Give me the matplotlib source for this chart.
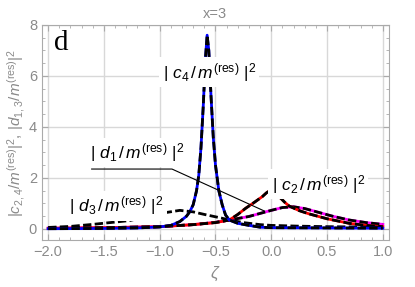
import matplotlib
matplotlib.use('Agg')
import matplotlib.pyplot as plt
from matplotlib.ticker import MultipleLocator

plt.rcParams['font.family'] = 'Liberation Sans'
plt.rcParams['mathtext.fontset'] = 'custom'
plt.rcParams['mathtext.rm'] = 'Liberation Sans'
plt.rcParams['mathtext.it'] = 'Liberation Sans:italic'

# curve values
zeta_c4 = [-2.0, -1.5, -1.2, -1.0, -0.9, -0.82, -0.76, -0.73, -0.7, -0.67, -0.65, -0.63,
           -0.61, -0.59, -0.575, -0.56, -0.54, -0.52, -0.5, -0.47, -0.44, -0.41,
           -0.376, -0.3, -0.2, -0.1, 0.0, 0.5, 1.0]
c4 = [0.01, 0.02, 0.04, 0.08, 0.14, 0.29, 0.5, 0.68, 0.95, 1.5, 2.1, 3.2,
      4.8, 6.7, 7.6, 7.0, 5.2, 3.6, 2.5, 1.5, 0.95, 0.55,
      0.35, 0.22, 0.14, 0.07, 0.05, 0.04, 0.03]

zeta_c2 = [-2.0, -1.5, -1.0, -0.7, -0.5, -0.376, -0.3, -0.23, -0.15, -0.08, -0.045,
           0.0, 0.04, 0.07, 0.12, 0.16, 0.25, 0.34, 0.5, 0.7, 0.85, 1.0]
c2 = [0.03, 0.05, 0.09, 0.17, 0.25, 0.35, 0.57, 0.81, 1.05, 1.27, 1.41,
      1.55, 1.45, 1.27, 1.05, 0.9, 0.72, 0.59, 0.4, 0.22, 0.14, 0.09]

zeta_d1 = [-2.0, -1.5, -1.0, -0.7, -0.5, -0.376, -0.2, 0.0, 0.1, 0.2, 0.3, 0.4,
           0.55, 0.7, 0.85, 1.0]
d1 = [0.03, 0.05, 0.09, 0.17, 0.26, 0.35, 0.49, 0.73, 0.84, 0.87, 0.8, 0.68,
      0.5, 0.35, 0.25, 0.18]

zeta_d3 = [-2.0, -1.8, -1.6, -1.4, -1.27, -1.1, -0.95, -0.82, -0.7, -0.6, -0.45,
           -0.376, -0.25, -0.1, 0.0, 0.25, 0.5, 0.75, 1.0]
d3 = [0.06, 0.1, 0.18, 0.27, 0.33, 0.5, 0.64, 0.73, 0.67, 0.57, 0.43,
      0.35, 0.25, 0.17, 0.14, 0.11, 0.09, 0.08, 0.07]

# pointer line from the d1 label
ptr_x = [-1.61, -0.89, -0.06]
ptr_y = [2.35, 2.35, 0.7]

fig = plt.figure(figsize=(4.15, 2.87), dpi=100)
ax = fig.add_axes([0.101, 0.164, 0.836, 0.749])

dash = (0, (3, 1.2))
ax.plot(zeta_d1, d1, color='#ff00ff', lw=2)
ax.plot(zeta_d1, d1, color='black', lw=2, linestyle=dash)
ax.plot(zeta_c2, c2, color='red', lw=2)
ax.plot(zeta_c2, c2, color='black', lw=2, linestyle=dash)
ax.plot(zeta_d3, d3, color='black', lw=2, linestyle=dash)
ax.plot(zeta_c4, c4, color='blue', lw=2)
ax.plot(zeta_c4, c4, color='black', lw=2, linestyle=dash)
ax.plot(ptr_x, ptr_y, color='black', lw=0.8)

box = dict(facecolor='white', edgecolor='none', pad=2.5)
fs = 12.5
ax.text(-0.555, 6.15, r'$|\ c_4\,/\,m^{(\mathrm{res})}\ |^2$', fontsize=fs,
        ha='center', va='center', bbox=box, zorder=5)
ax.text(-1.20, 3.0, r'$|\ d_1\,/\,m^{(\mathrm{res})}\ |^2$', fontsize=fs,
        ha='center', va='center', bbox=box, zorder=5)
ax.text(-1.39, 0.9, r'$|\ d_3\,/\,m^{(\mathrm{res})}\ |^2$', fontsize=fs,
        ha='center', va='center', bbox=box, zorder=5)
ax.text(0.42, 1.76, r'$|\ c_2\,/\,m^{(\mathrm{res})}\ |^2$', fontsize=fs,
        ha='center', va='center', bbox=box, zorder=5)

ax.text(0.055, 0.915, 'd', transform=ax.transAxes, fontsize=21,
        family='Liberation Serif', ha='center', va='center')

ax.set_xlim(-2.056, 1.054)
ax.set_ylim(-0.43, 8.0)
ax.xaxis.set_major_locator(MultipleLocator(0.5))
ax.xaxis.set_minor_locator(MultipleLocator(0.1))
ax.yaxis.set_major_locator(MultipleLocator(2))
ax.yaxis.set_minor_locator(MultipleLocator(0.5))
ax.grid(True, which='major', color='#d8d8d8', lw=1)
ax.set_axisbelow(True)

gray = '#8a8a8a'
for s in ax.spines.values():
    s.set_color('#aaaaaa')
ax.tick_params(which='both', direction='in', top=True, right=True,
               color='#aaaaaa', labelcolor=gray, labelsize=10.5)
ax.tick_params(which='major', length=4)
ax.tick_params(which='minor', length=2)
ax.set_xticks([-2.0, -1.5, -1.0, -0.5, 0.0, 0.5, 1.0])
ax.set_xticklabels(['\u22122.0', '\u22121.5', '\u22121.0', '\u22120.5', '0.0', '0.5', '1.0'])
ax.set_yticks([0, 2, 4, 6, 8])

ax.set_xlabel(r'$\zeta$', fontsize=12, color=gray)
ax.set_ylabel(r'$|c_{2,4}/m^{(\mathrm{res})}|^2$, $|d_{1,3}/m^{(\mathrm{res})}|^2$',
              fontsize=11, color=gray, labelpad=1)
ax.set_title('x=3', fontsize=10.5, color=gray, pad=5)

fig.savefig('out.png', dpi=100)
